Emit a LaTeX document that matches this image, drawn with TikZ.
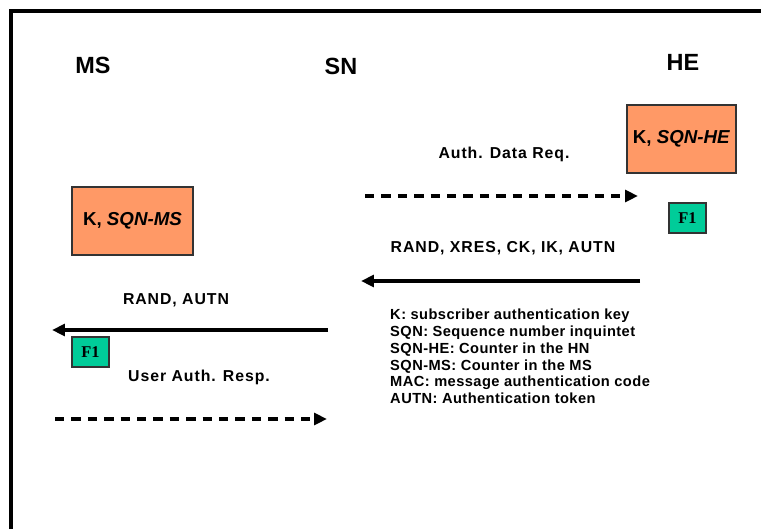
\documentclass[tikz,border=0pt]{standalone}
\usepackage{fontspec}
\setmainfont{Liberation Sans}
\newfontfamily\boxserif{Liberation Serif}
\usepackage{tikz}
\usetikzlibrary{positioning, arrows.meta}
\definecolor{KeyOrange}{RGB}{255,153,102}
\definecolor{FunGreen}{RGB}{0,204,153}
\tikzset{
  party/.style={font=\fontsize{20}{24}\selectfont\bfseries, inner sep=0pt},
  keybox/.style={draw=black!80, line width=0.9pt, fill=KeyOrange, minimum height=2.04cm,
    inner sep=2pt, font=\fontsize{16}{19}\selectfont\bfseries},
  fbox/.style={draw=black!80, line width=0.9pt, fill=FunGreen, minimum width=1.11cm,
    minimum height=0.9cm, inner sep=0pt, font=\boxserif\fontsize{14}{16}\selectfont\bfseries},
  msglabel/.style={font=\fontsize{13.5}{16}\selectfont\bfseries\addfontfeature{LetterSpace=6}, inner sep=0pt},
  reqarrow/.style={-{Triangle[length=11pt,width=10pt]}, line width=3pt, dash pattern=on 8pt off 6pt},
  resarrow/.style={-{Triangle[length=11pt,width=10pt]}, line width=3pt},
  legend/.style={font=\fontsize{12.5}{14.3}\selectfont\bfseries\addfontfeature{LetterSpace=3}, align=left, inner sep=0pt},
}
\begin{document}
\begin{tikzpicture}[x=0.03cm, y=-0.03cm]
  \useasboundingbox (0,0) rectangle (761,529);
  % frame
  \draw[line width=2.6pt] (11,529) -- (11,11) -- (761,11);
  % parties
  \node[party] (ms) at (93,65) {MS};
  \node[party] (sn) at (341,66) {SN};
  \node[party] (he) at (683,62) {HE};
  % key stores
  \node[keybox, minimum width=3.27cm] (hekey) at (681.5,139) {K, \textit{SQN-HE}};
  \node[keybox, minimum width=3.63cm] (mskey) at (132.5,221) {K, \textit{SQN-MS}};
  \node[fbox] (hef) at (687.5,218) {F1};
  \node[fbox] (msf) at (90.5,352) {F1};
  % messages
  \coordinate (snreq) at (365,196);
  \coordinate (hereq) at (638,196);
  \node[msglabel] (reqlab) at (504,154) {Auth. Data Req.};
  \draw[reqarrow] (snreq) -- (hereq);
  \coordinate (heres) at (640,281);
  \coordinate (snres) at (361,281);
  \node[msglabel] (reslab) at (503,248) {RAND, XRES, CK, IK, AUTN};
  \draw[resarrow] (heres) -- (snres);
  \coordinate (snchal) at (328,330);
  \coordinate (mschal) at (52,330);
  \node[msglabel] (challab) at (176,300) {RAND, AUTN};
  \draw[resarrow] (snchal) -- (mschal);
  \coordinate (msresp) at (55,419);
  \coordinate (snresp) at (327,419);
  \node[msglabel] (resplab) at (199,377) {User Auth. Resp.};
  \draw[reqarrow] (msresp) -- (snresp);
  % legend
  \node[legend, anchor=north west] (keys) at (390,309) {K: subscriber authentication key\\
    SQN: Sequence number inquintet\\
    SQN-HE: Counter in the HN\\
    SQN-MS: Counter in the MS\\
    MAC: message authentication code\\
    AUTN: Authentication token};
\end{tikzpicture}
\end{document}
